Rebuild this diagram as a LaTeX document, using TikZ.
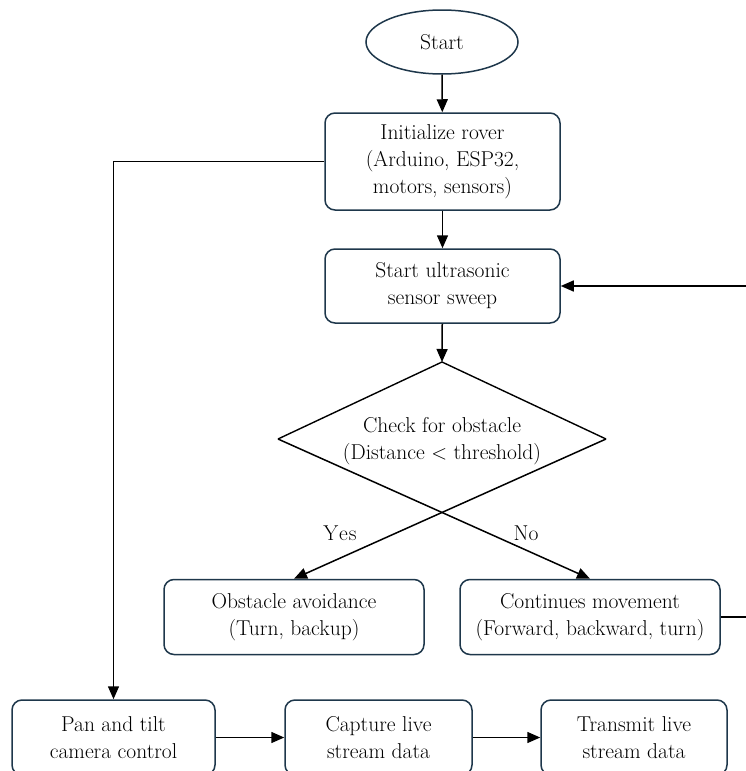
\documentclass[tikz,border=0pt]{standalone}
\usetikzlibrary{shapes.geometric,arrows.meta}
\definecolor{boxc}{RGB}{30,55,75}
\begin{document}
\begin{tikzpicture}[x=1pt,y=-1pt,
  txt/.style={font=\rmfamily\fontsize{21.5}{27}\selectfont, align=center, inner sep=0pt, text=black},
  procbox/.style={txt, draw=boxc, line width=1.5pt, rounded corners=10pt},
  arr/.style={-{Triangle[length=13pt,width=11pt]}, line width=1.5pt, draw=black}]
\useasboundingbox (0,0) rectangle (746,771);
\clip (0,0) rectangle (746,771);
% nodes
\node[txt, ellipse, draw=boxc, line width=1.5pt, minimum width=152pt, minimum height=64pt] (start) at (442,42) {Start};
\node[procbox, minimum width=235pt, minimum height=97pt] (init) at (442.5,161.5) {Initialize rover\\(Arduino, ESP32,\\motors, sensors)};
\node[procbox, minimum width=235pt, minimum height=74pt] (sweep) at (442.5,286) {Start ultrasonic\\sensor sweep};
\coordinate (dN) at (442,362);
\coordinate (dE) at (606,439);
\coordinate (dW) at (278,439);
\draw[line width=1.4pt] (dW) -- (dN) -- (dE);
\node[txt] (dec) at (442,441) {Check for obstacle\\(Distance $<$ threshold)};
\node[procbox, minimum width=260pt, minimum height=75pt] (obst) at (294,617) {Obstacle avoidance\\(Turn, backup)};
\node[procbox, minimum width=260pt, minimum height=75pt] (cont) at (590,617) {Continues movement\\(Forward, backward, turn)};
\node[procbox, minimum width=203pt, minimum height=75pt] (pan) at (113.5,737.5) {Pan and tilt\\camera control};
\node[procbox, minimum width=187pt, minimum height=75pt] (cap) at (378.5,737.5) {Capture live\\stream data};
\node[procbox, minimum width=186pt, minimum height=75pt] (tx) at (634,737.5) {Transmit live\\stream data};
\node[txt] (yes) at (340,533) {Y\kern1pt e\kern1pt s};
\node[txt] (no) at (526,533) {No};
\coordinate (rt) at (752,450);
% connectors
\draw[arr] (start) -- (init);
\draw[arr] (init) -- (sweep);
\draw[arr] (sweep) -- (dN);
\draw[arr] (dE) -- (obst.north);
\draw[arr] (dW) -- (cont.north);
\draw[arr] (cont.east) -| (rt) |- (sweep.east);
\draw[arr] (init.west) -| (pan.north);
\draw[arr] (pan) -- (cap);
\draw[arr] (cap) -- (tx);
\end{tikzpicture}
\end{document}
